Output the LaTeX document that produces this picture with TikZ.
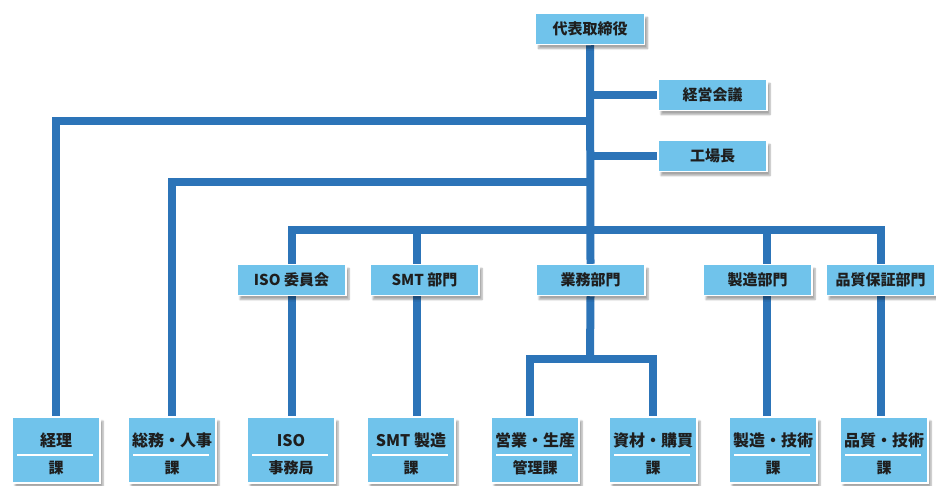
\documentclass[tikz,border=0pt]{standalone}
\usepackage{fontspec}
\newfontfamily\jp{Noto Sans CJK JP}
\usetikzlibrary{shadows.blur,backgrounds}
\definecolor{boxblue}{RGB}{112,195,235}
\definecolor{lineblue}{RGB}{44,116,184}
\definecolor{ink}{RGB}{30,30,30}
\newcommand{\kaname}[2]{\rule{0pt}{22pt}#1\\[11pt]{\fontsize{15}{15}\selectfont #2}}
\begin{document}
\begin{tikzpicture}[x=1pt, y=-1pt,
    box/.style={rectangle, fill=boxblue, draw=white, line width=1.5pt, text=ink,
      font=\jp\bfseries\fontsize{15}{15}\selectfont, inner sep=0pt,
      minimum width=109pt, minimum height=31pt,
      blur shadow={shadow xshift=3pt, shadow yshift=-4pt, shadow blur steps=6, shadow opacity=35}},
    ka/.style={box, minimum width=88pt, minimum height=66pt, align=center,
      font=\jp\bfseries\fontsize{16}{16}\selectfont,
      path picture={\draw[white, line width=2pt]
        ([xshift=5pt,yshift=-5pt]path picture bounding box.west) --
        ([xshift=-7pt,yshift=-5pt]path picture bounding box.east);}},
    link/.style={draw=lineblue, line width=8pt}]
    \useasboundingbox (0,0) rectangle (936,485);
    % Top level
    \node[box] (top) at (590,29) {代表取締役};
    \node[box] (kaigi) at (712.5,95) {経営会議};
    \node[box] (kojo) at (712.5,156) {工場長};
    % Departments
    \node[box] (iinkai) at (291.5,280) {ISO 委員会};
    \node[box] (smt) at (424.5,280) {SMT 部門};
    \node[box] (gyomu) at (590.5,280) {業務部門};
    \node[box] (seizo) at (757.5,280) {製造部門};
    \node[box] (hinsho) at (880.5,280) {品質保証部門};
    % Sections
    \node[ka] (keiri) at (56,450) {\kaname{経理}{課}};
    \node[ka] (somu) at (172,450) {\kaname{総務・人事}{課}};
    \node[ka] (isoka) at (291,450) {\kaname{ISO}{事務局}};
    \node[ka] (smtka) at (411,450) {\kaname{SMT 製造}{課}};
    \node[ka] (eigyo) at (535,450) {\kaname{営業・生産}{管理課}};
    \node[ka] (shizai) at (653,450) {\kaname{資材・購買}{課}};
    \node[ka] (seigika) at (773,450) {\kaname{製造・技術}{課}};
    \node[ka] (hingika) at (884,450) {\kaname{品質・技術}{課}};
    \begin{pgfonlayer}{background}
        \coordinate (j1) at (590,121);
        \coordinate (j2) at (590,182);
        \coordinate (bar) at (590,230);
        \coordinate (c2) at (417,230);
        \coordinate (c4) at (767,230);
        \coordinate (g) at (590,359);
        \coordinate (c5) at (530,359);
        \draw[link] (top.south) -- (gyomu.north);
        \draw[link] (top.south |- kaigi) -- (kaigi.west);
        \draw[link] (top.south |- kojo) -- (kojo.west);
        \draw[link] (j1) -| (keiri.north);
        \draw[link] (j2) -| (somu.north);
        \draw[link] (iinkai.north) |- (bar) -| (hinsho.north);
        \draw[link] (iinkai.south) -- (iinkai.south |- isoka.north);
        \draw[link] (c2) -- (c2 |- smtka.north);
        \draw[link] (c4) -- (c4 |- seigika.north);
        \draw[link] (hinsho.south) -- (hinsho.south |- hingika.north);
        \draw[link] (gyomu.south) -- (g);
        \draw[link] (c5 |- eigyo.north) |- (g) -| (shizai.north);
    \end{pgfonlayer}
\end{tikzpicture}
\end{document}
